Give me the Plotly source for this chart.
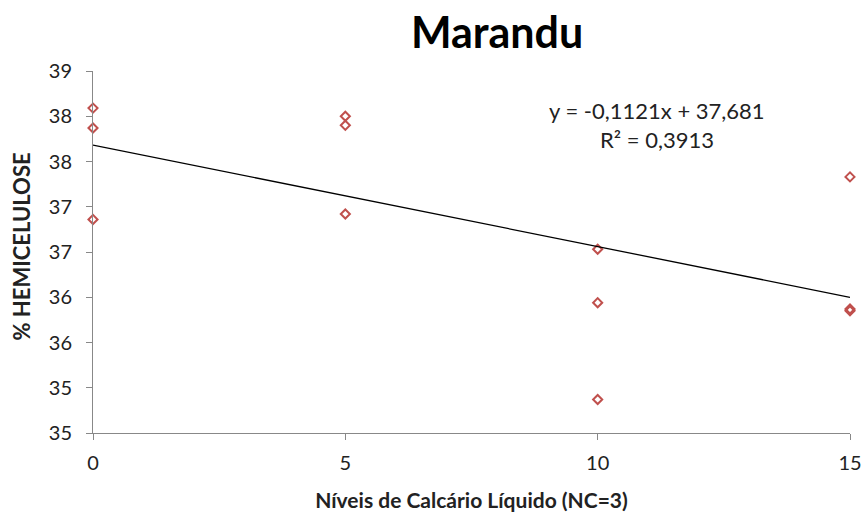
import plotly.graph_objects as go

niveis = [0, 0, 0, 5, 5, 5, 10, 10, 10, 15, 15, 15]
hemicelulose = [38.09, 37.87, 36.86, 38.00, 37.90, 36.92, 36.53, 35.94, 34.87, 37.33, 35.87, 35.85]
slope = -0.1121
intercept = 37.681
trend_x = [0, 15]
y_tickvals = [34.5, 35.0, 35.5, 36.0, 36.5, 37.0, 37.5, 38.0, 38.5]
y_ticktext = ["35", "35", "36", "36", "37", "37", "38", "38", "39"]
x_tickvals = [0, 5, 10, 15]

FONT = "Lato, Open Sans, sans-serif"

fig = go.Figure()
fig.add_trace(go.Scatter(
    x=niveis, y=hemicelulose, mode="markers",
    marker=dict(symbol="diamond-open", size=7, color="#C0504D", line=dict(width=2, color="#C0504D")),
    showlegend=False,
))
fig.add_trace(go.Scatter(
    x=trend_x, y=[intercept + slope * v for v in trend_x], mode="lines",
    line=dict(color="black", width=1.3), showlegend=False,
))

fig.update_layout(
    width=866, height=515,
    margin=dict(l=93, r=16, t=71, b=82),
    paper_bgcolor="white", plot_bgcolor="white",
    font=dict(family=FONT, color="#222"),
    title=dict(text="<b>Marandu</b>", x=0.574, xanchor="center", y=0.966, yanchor="top",
               font=dict(size=43, color="black", family=FONT)),
    xaxis=dict(range=[0, 15], tickvals=x_tickvals, ticks="outside", ticklen=6, tickcolor="#888",
               showline=True, linecolor="#888", linewidth=1, showgrid=False, zeroline=False,
               tickfont=dict(size=20, color="#222"), ticklabelstandoff=6, automargin=False,
               title=dict(text="<b>Níveis de Calcário Líquido (NC=3)</b>", font=dict(size=21, color="#222"), standoff=20)),
    yaxis=dict(range=[34.5, 38.5], tickvals=y_tickvals, ticktext=y_ticktext, ticks="outside", ticklen=6,
               tickcolor="#888", showline=True, linecolor="#888", linewidth=1, showgrid=False, zeroline=False,
               tickfont=dict(size=20, color="#222"), automargin=False, ticklabelstandoff=10),
    annotations=[
        dict(x=-0.0938, y=0.515, xref="paper", yref="paper", showarrow=False, xanchor="center", yanchor="middle",
             textangle=-90, text="<b>% HEMICELULOSE</b>", font=dict(size=22, color="#222", family=FONT)),
        dict(x=0.745, y=38.5 - (110 - 71) / 90.5, xref="paper", yref="y", showarrow=False, xanchor="center",
             text="y = -0,1121x + 37,681", font=dict(size=22, color="#222", family=FONT)),
        dict(x=0.745, y=38.5 - (139 - 71) / 90.5, xref="paper", yref="y", showarrow=False, xanchor="center",
             text="R² = 0,3913", font=dict(size=22, color="#222", family=FONT)),
    ],
)
fig.update_traces(cliponaxis=False)
fig.write_html("out.html", config={"displayModeBar": False},
               post_script="document.body.style.margin='0';document.body.style.overflow='hidden';")
